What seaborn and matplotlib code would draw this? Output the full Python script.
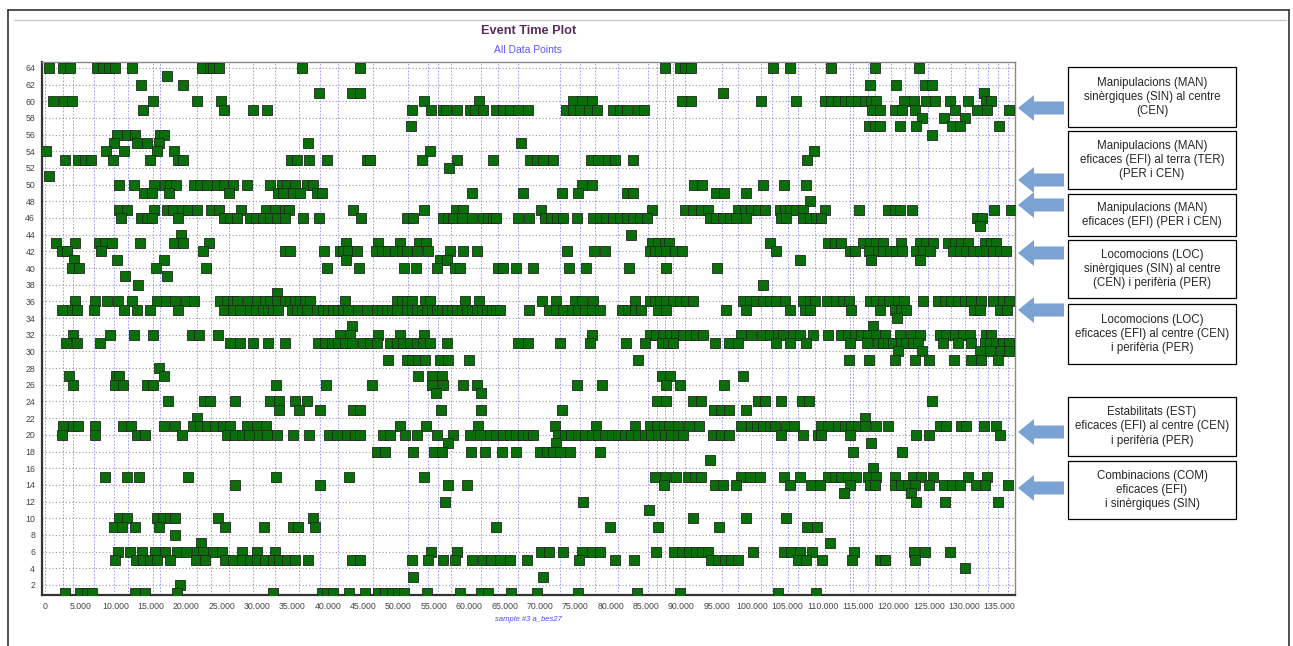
import matplotlib
matplotlib.use("Agg")
import matplotlib.pyplot as plt
from matplotlib.patches import Rectangle, FancyArrow
from matplotlib.lines import Line2D
import seaborn as sns
import pandas as pd

# -------------------------
# Event times (x) per behaviour code (y)
# -------------------------
r64 = [610, 2590, 3530, 7400, 8250, 9100, 9900, 12250, 22150, 23330, 23800, 24600, 36300, 44540,
       87760, 89790, 90500, 91340, 102980, 105440, 111240, 117360, 123630]
r63 = [17290]
r62 = [13520, 19550, 116660, 120430, 124440, 125520]
r61 = [38800, 43370, 44540, 95920, 132780]
r60 = [1180, 2730, 3770, 15320, 21440, 24880, 53590, 61410, 74710, 75890, 77400, 90120, 91350,
       101340, 106200, 110290, 111240, 112180, 113120, 114060, 115000, 115950, 116890, 117600,
       121510, 122880, 124570, 125850, 127970, 130560, 133150, 133860]
r59 = [13810, 25310, 29360, 31430, 51940, 54580, 56230, 56700, 58300, 60090, 60800, 61980, 63860,
       64810, 65750, 66930, 68340, 73760, 74710, 75650, 76970, 78010, 80360, 81300, 82250, 83900,
       84700, 117030, 118070, 120190, 121270, 123020, 128670, 131830, 133240, 136350]
r58 = [124100, 127120, 130090]
r57 = [51700, 116560, 117360, 118160, 120900, 123160, 128340, 129380, 134940]
r56 = [10230, 11550, 12720, 16260, 16820, 125520]
r55 = [9800, 13050, 14370, 16160, 37140, 67260]
r54 = [140, 8620, 11220, 15880, 18290, 54440, 108740]
r53 = [2830, 4710, 5660, 6460, 9570, 14850, 18850, 19460, 34740, 35590, 37330, 39920, 45480,
       45950, 53350, 58210, 63300, 68580, 69520, 70460, 71880, 77160, 78240, 79650, 80600, 83100,
       107800]
r52 = [57120]
r51 = [610]
r50 = [10460, 12580, 15460, 16970, 17670, 18520, 21070, 21910, 22950, 24360, 25310, 26630, 28610,
       31810, 33460, 34170, 35350, 37000, 37940, 75890, 77400, 91770, 92950, 101570, 104500, 107600]
r49 = [14040, 15080, 17580, 26010, 32900, 33700, 35110, 36060, 38410, 39120, 60330, 67540, 73060,
       75410, 82250, 83190, 94880, 96010, 99210]
r48 = [108170]
r47 = [10460, 11640, 15460, 17200, 18140, 19320, 20260, 21440, 23420, 24600, 27660, 31200, 32520,
       33940, 34550, 43510, 53640, 58120, 59150, 70140, 85790, 90500, 91670, 92850, 93790, 98040,
       98980, 99920, 100860, 101810, 103930, 104640, 105340, 106290, 107230, 110290, 115140,
       119250, 120190, 120900, 122690, 134190, 136690]
r46 = [10700, 13520, 14370, 15170, 18850, 25310, 26160, 27100, 28990, 29830, 30870, 31810, 32760,
       33940, 36440, 38800, 44640, 51230, 51990, 56320, 57030, 57740, 58920, 60330, 61980, 62690,
       63390, 63860, 66930, 68490, 70700, 71640, 72350, 73290, 75270, 77530, 78480, 79420, 80360,
       81300, 82250, 83190, 84130, 85080, 94030, 94970, 95920, 96860, 97800, 99210, 104160,
       104870, 107230, 108170, 109110, 109820, 131830, 132540]
r45 = [132300]
r44 = [19220, 82820]
r43 = [1510, 4240, 7630, 8480, 9420, 13430, 18240, 19550, 23240, 42560, 47130, 50200, 52880,
       53870, 85790, 86730, 87670, 88280, 102510, 110760, 111710, 112650, 115710, 116660, 117600,
       118540, 121040, 123820, 124670, 125610, 127730, 128670, 129610, 130560, 132920, 133860,
       134560]
r42 = [2360, 3160, 7870, 22390, 33940, 34640, 39450, 41710, 42180, 42890, 44070, 46800, 47600,
       48550, 49490, 50430, 51140, 52550, 54200, 57260, 59150, 61040, 73860, 77630, 79180, 85550,
       86250, 86960, 87900, 89080, 90170, 103460, 113830, 114530, 116560, 117830, 118540, 119480,
       120430, 121270, 123250, 124200, 125230, 128440, 129380, 130330, 131270, 132210, 133150,
       134090, 135040, 135980]
r41 = [4100, 10130, 16820, 42560, 55850, 56790, 106850, 116890, 123820]
r40 = [3770, 4850, 15650, 22760, 39830, 44450, 50760, 52410, 55380, 57970, 58680, 64100, 64810,
       66690, 69050, 74140, 76590, 82620, 87810, 95070]
r39 = [11310, 17290]
r38 = [13200, 101570]
r37 = [32850]
r36 = [4240, 7070, 8810, 10370, 12250, 15880, 17060, 18380, 19940, 21120, 24740, 25690, 26630,
       27190, 28750, 30020, 31100, 31810, 32760, 33940, 34640, 35350, 36060, 36760, 37470, 42420,
       49720, 50430, 51140, 51850, 53730, 54440, 59390, 61410, 70230, 72260, 74940, 75890, 77530,
       83430, 85550, 86250, 86960, 87900, 88850, 89790, 90730, 91670, 98740, 99690, 100630,
       101570, 102510, 103460, 104640, 107230, 108170, 108880, 110620, 111940, 112880, 113730,
       116660, 117600, 118540, 119390, 120660, 121460, 124200, 126320, 127260, 128200, 129150,
       130090, 131030, 132450, 134090, 135510, 136350]
r35 = [2450, 3770, 4570, 6930, 11170, 12960, 14850, 18850, 25310, 26630, 27570, 28990, 29830,
       30870, 31580, 32290, 33000, 34880, 35590, 36290, 37000, 38410, 39360, 40060, 40770, 41480,
       42180, 42890, 44300, 45480, 46900, 47600, 48310, 49020, 49720, 51140, 51850, 52550, 53260,
       53970, 54670, 55380, 56090, 56790, 57500, 58210, 58920, 59620, 60330, 61040, 61750, 62450,
       63160, 63860, 64330, 68490, 71310, 72260, 73200, 74610, 75410, 76360, 77300, 78480, 81680,
       82480, 83430, 84370, 86730, 87900, 96390, 99210, 105440, 107460, 108170, 114060, 118070,
       120190, 121130, 121840, 131360, 132210, 135130, 136070]
r34 = [120520]
r33 = [43370, 117130]
r32 = [3910, 9190, 12580, 15320, 20740, 21820, 24510, 41710, 43130, 47130, 50200, 53590, 77300,
       85550, 86490, 87430, 88370, 89320, 90260, 91200, 92140, 93090, 98510, 99920, 101480,
       102610, 103690, 104400, 105810, 106760, 108640, 110760, 112650, 113590, 114530, 115480,
       116420, 117600, 118780, 120900, 122550, 123720, 126550, 127490, 128670, 129850, 130790,
       133150, 133860]
r31 = [2970, 4480, 7780, 26160, 27570, 29360, 31580, 33940, 38650, 39590, 40530, 41480, 42420,
       43370, 45010, 45950, 46900, 48780, 49720, 50670, 51610, 52550, 53500, 54440, 56890, 66930,
       68340, 72910, 77060, 82150, 84840, 87340, 88140, 88850, 94740, 96760, 98040, 103460,
       105340, 107600, 113830, 116280, 117830, 118540, 119250, 119950, 121130, 121840, 122780,
       123490, 127020, 129140, 130930, 132920, 133720, 134560, 135510, 136350]
r30 = [120660, 124050, 132300, 133620, 135270, 136350]
r29 = [48550, 51230, 51850, 52790, 53730, 55850, 57030, 60000, 83900, 113690, 116510, 120280,
       123110, 124990, 128530, 130930, 132440, 134800]
r28 = [16160]
r27 = [3440, 10040, 10510, 16820, 52790, 54670, 56090, 87200, 88370, 98740]
r26 = [3910, 9900, 11080, 14370, 15220, 32660, 39730, 46190, 54770, 56320, 59150, 61040, 75270,
       78850, 87900, 89790, 96010]
r25 = [55240, 61650]
r24 = [17440, 22480, 23330, 26860, 31810, 33130, 35350, 37000, 86580, 87810, 91670, 92850,
       100860, 101810, 104160, 107130, 108080, 125520]
r23 = [33130, 35960, 38880, 43500, 44540, 55950, 61650, 73060, 94600, 95680, 96760, 99210]
r22 = [21540, 115950]
r21 = [2590, 3910, 4710, 7070, 10980, 12110, 16820, 18430, 20970, 21910, 22860, 24040, 25120,
       26160, 28610, 30020, 31250, 50200, 53830, 61270, 72110, 77910, 83430, 85640, 86580, 87530,
       88280, 89550, 91110, 92520, 98510, 99920, 100720, 101570, 102510, 103220, 104870, 105910,
       109820, 110760, 112180, 113120, 114060, 115000, 115950, 117600, 119250, 126550, 127490,
       129610, 130320, 132770, 134470]
r20 = [2360, 7070, 13050, 14140, 19320, 25690, 26860, 27810, 28890, 30300, 31340, 32760, 35110,
       37380, 40200, 41240, 42750, 43830, 44540, 47840, 48780, 50900, 52650, 55470, 57640, 60090,
       61510, 62920, 63860, 64810, 65750, 66690, 67630, 68340, 69050, 72580, 73530, 74470, 75410,
       76360, 77300, 78240, 79180, 80130, 81070, 82010, 82950, 83900, 84840, 85780, 86720, 87670,
       88610, 89550, 90260, 94500, 95680, 96760, 104160, 107230, 109350, 109820, 113920, 123250,
       125040, 135040]
r19 = [57030, 72260, 116890]
r18 = [46900, 48080, 52080, 55000, 56090, 60190, 62210, 64660, 66690, 69990, 70940, 71880, 72820,
       74240, 78480, 114300, 121230]
r17 = [94030]
r16 = [117130]
r15 = [8480, 11640, 13340, 20270, 32660, 43030, 53590, 86250, 87670, 89320, 90970, 91910, 92850,
       98510, 99690, 101100, 104500, 106760, 110760, 111710, 112650, 113590, 114670, 116420,
       117500, 120280, 122780, 123960, 125610, 130560, 133240]
r14 = [26860, 38880, 57030, 59620, 87530, 94740, 95920, 97800, 105340, 108410, 109590, 113920,
       116660, 117360, 120190, 121130, 122070, 123020, 125040, 127120, 128340, 129380, 131740,
       132910, 136210]
r13 = [113030, 122550]
r12 = [56560, 76030, 123160, 127260, 134800]
r11 = [85450]
r10 = [10510, 11640, 15790, 16640, 17670, 18380, 24510, 37850, 91670, 99120, 104870]
r9 = [9760, 10840, 12720, 16160, 25450, 30960, 35020, 35820, 38180, 63860, 79890, 86720, 95350,
      107790, 109210]
r8 = [18380]
r7 = [22010, 111000]
r6 = [10370, 12020, 13670, 15550, 16970, 18620, 19940, 21440, 22390, 23800, 24980, 27810, 30020,
      32520, 54530, 58210, 70090, 71310, 73200, 75890, 77440, 78570, 86490, 88940, 90170, 91110,
      92050, 92990, 93790, 100160, 104500, 105580, 106760, 108550, 114390, 122880, 124430, 127960]
r5 = [9900, 12870, 13810, 14850, 15790, 17670, 21350, 22620, 25450, 26630, 27810, 28990, 29930,
      31100, 32290, 33130, 34170, 35350, 37230, 43360, 44540, 51850, 54200, 56230, 57970, 60330,
      61980, 63020, 64330, 65750, 68110, 75550, 80600, 83280, 94270, 95210, 96150, 97090, 98040,
      106520, 107600, 109960, 114200, 118070, 118780, 123020]
r4 = [130180]
r3 = [51990, 70460]
r2 = [19090]
r1 = [2830, 4950, 5890, 6600, 12720, 14140, 18620, 32190, 39120, 39830, 40680, 43030, 45250,
      47130, 48070, 49020, 49960, 50760, 53970, 58770, 61600, 62690, 65980, 69620, 75410, 83750,
      89880, 103690, 109020]

# vertical blue dashed markers (sequence boundaries)
marks = [0, 2540, 3960, 6930, 9760, 11740, 15270, 16260, 21540, 23520, 26020, 29410, 32560,
         35870, 38840, 41430, 46380, 51330, 54160, 55570, 57410, 61650, 64060, 66890, 72820,
         75650, 77770, 81020, 85270, 86500, 87670, 88800, 90500, 95690, 97990, 101340, 102760,
         105060, 106480, 108880, 110300, 113830, 114260, 116380, 117370, 119730, 121610, 123450,
         124870, 128210, 130090, 131930, 133340, 134750, 136170]

labels = [
    "Manipulacions (MAN)\nsinèrgiques (SIN) al centre\n(CEN)",
    "Manipulacions (MAN)\neficaces (EFI) al terra (TER)\n(PER i CEN)",
    "Manipulacions (MAN)\neficaces (EFI) (PER i CEN)",
    "Locomocions (LOC)\nsinèrgiques (SIN) al centre\n(CEN) i perifèria (PER)",
    "Locomocions (LOC)\neficaces (EFI) al centre (CEN)\ni perifèria (PER)",
    "Estabilitats (EST)\neficaces (EFI) al centre (CEN)\ni perifèria (PER)",
    "Combinacions (COM)\neficaces (EFI)\ni sinèrgiques (SIN)",
]

rows = [(64, r64), (63, r63), (62, r62), (61, r61), (60, r60), (59, r59), (58, r58), (57, r57),
        (56, r56), (55, r55), (54, r54), (53, r53), (52, r52), (51, r51), (50, r50), (49, r49),
        (48, r48), (47, r47), (46, r46), (45, r45), (44, r44), (43, r43), (42, r42), (41, r41),
        (40, r40), (39, r39), (38, r38), (37, r37), (36, r36), (35, r35), (34, r34), (33, r33),
        (32, r32), (31, r31), (30, r30), (29, r29), (28, r28), (27, r27), (26, r26), (25, r25),
        (24, r24), (23, r23), (22, r22), (21, r21), (20, r20), (19, r19), (18, r18), (17, r17),
        (16, r16), (15, r15), (14, r14), (13, r13), (12, r12), (11, r11), (10, r10), (9, r9),
        (8, r8), (7, r7), (6, r6), (5, r5), (4, r4), (3, r3), (2, r2), (1, r1)]

df = pd.DataFrame([(t, code) for code, times in rows for t in times], columns=["time", "code"])

# -------------------------
# Figure
# -------------------------
sns.set_style("white")
plt.rcParams['font.family'] = ['Liberation Sans', 'DejaVu Sans']

fig = plt.figure(figsize=(12.93, 6.46), dpi=100)
ax = fig.add_axes([0.0325, 0.079, 0.7525, 0.825])

for m in marks:
    ax.axvline(m, color='#8c8cff', lw=0.6, ls=(0, (2, 2)), zorder=0)
for yv in range(2, 65, 2):
    ax.axhline(yv, color='#9a9a9a', lw=0.8, ls=(0, (1, 2)), zorder=0)

sns.scatterplot(data=df, x="time", y="code", marker="s", s=46, color="#0a6f0a",
                edgecolor="#1b2a1b", linewidth=0.6, ax=ax, zorder=3, legend=False)

ax.set_xlim(-420, 137200)
ax.set_ylim(0.8, 64.7)
ax.set_yticks(range(2, 65, 2))
ax.set_xticks(range(0, 135001, 5000))
ax.set_xticklabels([f"{v:,}".replace(",", ".") for v in range(0, 135001, 5000)])
ax.tick_params(axis='both', labelsize=6.3, colors='#444444', length=2, pad=3)
ax.set_ylabel("")
ax.set_xlabel("sample #3 a_bes27", fontsize=5.5, style='italic', color='#4a4aff', labelpad=4)

for side in ["left", "bottom"]:
    ax.spines[side].set_color('#333333')
    ax.spines[side].set_linewidth(1.6)
for side in ["top", "right"]:
    ax.spines[side].set_color('#8a8a8a')
    ax.spines[side].set_linewidth(1.0)

fig.text(0.4085, 0.952, "Event Time Plot", ha='center', va='center', fontsize=9.2,
         fontweight='bold', color='#5a2a5c')
fig.text(0.4085, 0.922, "All Data Points", ha='center', va='center', fontsize=7.5,
         color='#5a5aff')

# -------------------------
# Frame and annotation boxes (pixel overlay)
# -------------------------
ov = fig.add_axes([0, 0, 1, 1], facecolor='none')
ov.set_xlim(0, 1293)
ov.set_ylim(646, 0)
ov.axis('off')

ov.add_line(Line2D([8, 1289], [10, 10], color='#333333', lw=1.2))
ov.add_line(Line2D([8, 8], [10, 646], color='#333333', lw=1.2))
ov.add_line(Line2D([1289, 1289], [10, 646], color='#333333', lw=1.2))
ov.add_line(Line2D([14, 1286], [20, 20], color='#c8c8c8', lw=1.0))

boxes = [(67, 127, 108), (131, 189, 180), (194, 236, 205), (240, 298, 253),
         (304, 364, 310), (397, 456, 432), (461, 519, 488)]
for (y0, y1, ya), txt in zip(boxes, labels):
    ov.add_patch(Rectangle((1068, y0), 168, y1 - y0, facecolor='white',
                           edgecolor='black', lw=0.9))
    ov.text(1152, (y0 + y1) / 2, txt, ha='center', va='center', fontsize=8.3,
            linespacing=1.25, family=['Liberation Sans Narrow', 'Liberation Sans', 'DejaVu Sans'])
    ov.add_patch(FancyArrow(1064, ya, -30, 0, width=13, head_width=26, head_length=16,
                            length_includes_head=False, color='#7aa3d4', lw=0))

fig.savefig("out.png", dpi=100)
